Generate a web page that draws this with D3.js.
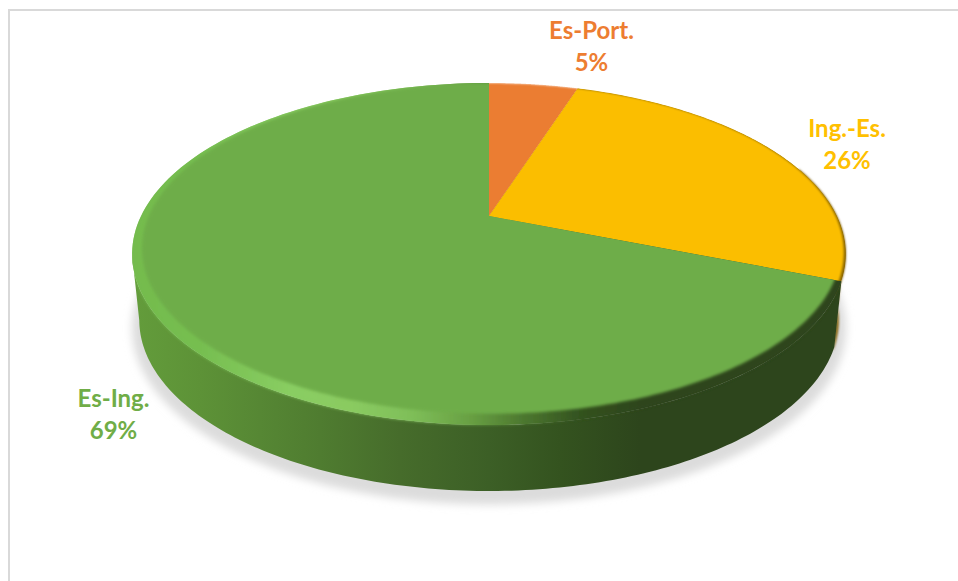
<!DOCTYPE html>
<html>
<head>
<meta charset="utf-8">
<script src="https://cdn.jsdelivr.net/npm/d3@7"></script>
<style>
  html, body { margin: 0; padding: 0; background: #fff; overflow: hidden; }
  svg { display: block; }
  text { font-family: Lato, "Open Sans", sans-serif; font-weight: 700; font-size: 24px; text-anchor: middle; }
</style>
</head>
<body>
<svg id="chart" width="958" height="581"></svg>
<script>
// Share of translation directions, clockwise from twelve o'clock
const categories = ["Es-Port.", "Ing.-Es.", "Es-Ing."];
const shares = [5, 26, 69];
const faceColors = ["#eb7d33", "#fbbe00", "#6ead49"];
const labelColors = ["#ed7d31", "#ffc000", "#70ad47"];
const labelCenters = [[591.5, 39], [847, 137], [113.5, 407]];
const lineGap = 32;

const W = 958, H = 581;
const apex = [489, 216];
const svg = d3.select("#chart");
const defs = svg.append("defs");

// A disc seen in perspective: circle angle -> screen position
const outerRim  = { x: 489,   y: 216,      a: 348,   b: 162.6, k: -0.222 };
const floorRim  = { x: 489,   y: 216 + 66, a: 341,   b: 162.6, k: -0.222 };
const greenFace = { x: 491.5, y: 216,      a: 342.7, b: 159,   k: -0.196 };
const warmFace  = { x: 489.5, y: 216,      a: 346,   b: 161.6, k: -0.215 };

function project(theta, d) {
  const u = Math.sin(theta), v = -Math.cos(theta), w = 1 + d.k * v;
  return [d.x + d.a * u / w, d.y + d.b * v / w];
}
function arcPoints(t0, t1, d, n = 160) {
  return d3.range(n + 1).map(i => project(t0 + (t1 - t0) * i / n, d));
}
const line = d3.line();
const closed = pts => line(pts) + "Z";
const TAU = Math.PI * 2;

const arcs = d3.pie().sort(null).startAngle(0).endAngle(TAU)(shares);
const [orange, yellow, green] = arcs;

const wedge = a => closed([apex, ...arcPoints(a.startAngle, a.endAngle, outerRim)]);
const disc = d => closed(arcPoints(0, TAU, d, 360));

// Visible side wall between two angles: rim forward, floor edge back
const wall = (t0, t1) => closed([...arcPoints(t0, t1, outerRim), ...arcPoints(t1, t0, floorRim)]);
const leftmost = TAU * 0.714;

function blurFilter(id, s) {
  defs.append("filter").attr("id", id)
    .attr("x", "-10%").attr("y", "-10%").attr("width", "120%").attr("height", "120%")
    .append("feGaussianBlur").attr("stdDeviation", s);
}
blurFilter("soft", 1.8);
blurFilter("softer", 1.5);
blurFilter("edge", 0.9);
blurFilter("shade", 4.5);

function hGradient(id, stops) {
  const pos = d3.scaleLinear().domain([0, W]).range([0, 100]);
  const g = defs.append("linearGradient").attr("id", id)
    .attr("gradientUnits", "userSpaceOnUse")
    .attr("x1", 0).attr("x2", W).attr("y1", 0).attr("y2", 0);
  stops.forEach(([x, c]) => g.append("stop").attr("offset", pos(x) + "%").attr("stop-color", c));
}
hGradient("wallShade", [
  [135, "#639c3b"], [200, "#5d9237"], [260, "#568734"], [320, "#4f7c30"],
  [400, "#466c2b"], [489, "#3c5f26"], [560, "#34531f"], [640, "#2d451c"], [958, "#2d451c"]
]);
hGradient("rimShade", [
  [130, "#74bb4d"], [200, "#76be50"], [290, "#89cd62"], [350, "#8acb61"],
  [410, "#7fbf59"], [470, "#68a043"], [520, "#4e7a30"], [580, "#33521f"], [640, "#2d451c"], [958, "#2d451c"]
]);

// Chart frame, running off the right and bottom of the page
svg.append("path")
  .attr("d", `M${W + 5},10H9V${H + 5}`)
  .attr("fill", "none").attr("stroke", "#d9d9d9").attr("stroke-width", 2);

// Ground shadow beneath the disc
svg.append("path")
  .attr("d", disc({ ...floorRim, y: floorRim.y + 7, a: floorRim.a + 7, b: floorRim.b + 5 }))
  .attr("fill", "#dcdcdc").attr("filter", "url(#shade)");

// Side walls: the yellow sliver sits behind the green wall
svg.append("path")
  .attr("d", wall(TAU * 0.2, yellow.endAngle + 0.02))
  .attr("fill", "#7d5c00").attr("filter", "url(#edge)");
defs.append("clipPath").attr("id", "warmRim").append("path").attr("d", wedge(yellow));
svg.append("path")
  .attr("d", disc(outerRim))
  .attr("clip-path", "url(#warmRim)")
  .attr("fill", "#8a6600");

const greenWall = wall(green.startAngle, leftmost);
svg.append("path").attr("d", greenWall).attr("fill", "url(#wallShade)");

// Bevel around the green slice, lit on the left and falling into shade on the right.
// A solid base keeps the page from showing through the softened band.
svg.append("path").attr("d", wedge(green)).attr("fill", "url(#rimShade)");
const bevelClip = defs.append("clipPath").attr("id", "bevelClip");
bevelClip.append("path").attr("d", greenWall);
bevelClip.append("path").attr("d", wedge(green));
svg.append("g").attr("clip-path", "url(#bevelClip)")
  .append("path")
  .attr("d", disc(outerRim))
  .attr("fill", "url(#rimShade)")
  .attr("filter", "url(#softer)");

// Flat top faces, softened only where they meet the bevel
arcs.forEach((a, i) => {
  const id = "face" + i;
  defs.append("clipPath").attr("id", id).append("path").attr("d", wedge(a));
  svg.append("g").attr("clip-path", `url(#${id})`)
    .append("path")
    .attr("d", disc(i === 2 ? greenFace : warmFace))
    .attr("fill", faceColors[i])
    .attr("filter", i === 2 ? "url(#soft)" : "url(#edge)");
});

// Two-line data labels
categories.forEach((name, i) => {
  const [x, y] = labelCenters[i];
  const t = svg.append("text").attr("fill", labelColors[i]);
  t.append("tspan").attr("x", x).attr("y", y).text(name);
  t.append("tspan").attr("x", x).attr("y", y + lineGap).text(shares[i] + "%");
});
</script>
</body>
</html>
